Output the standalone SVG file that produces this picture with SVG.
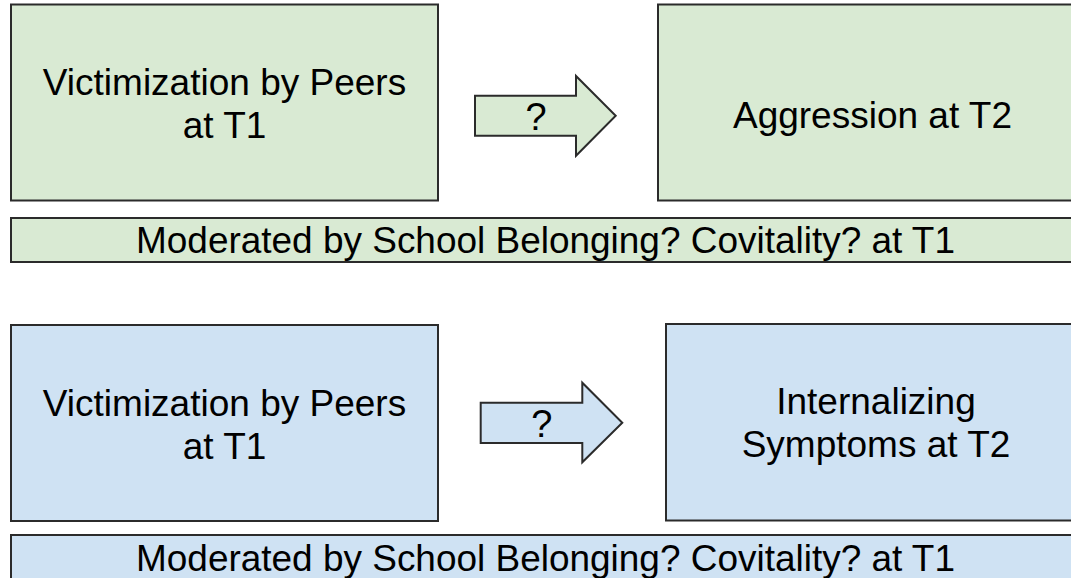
<svg xmlns="http://www.w3.org/2000/svg" width="1071" height="578" viewBox="0 0 1071 578">
<style>
.g{fill:#d9ead3;stroke:#2b2b2b;stroke-width:2}
.b{fill:#cfe2f3;stroke:#2b2b2b;stroke-width:2}
text{font-family:"Liberation Sans",Arial,sans-serif;fill:#000;text-anchor:middle}
.t{font-size:37px}
.q{font-size:38px}
.m{font-size:37px}
</style>
<rect width="1071" height="578" fill="#fff"/>
<g id="victim1">
<rect class="g" x="11" y="4.5" width="427" height="196"/>
<text class="t" x="224.5" y="95">Victimization by Peers</text>
<text class="t" x="224.5" y="138">at T1</text>
</g>
<g id="aggression">
<rect class="g" x="658" y="4.5" width="430" height="196"/>
<text class="t" x="872.5" y="128">Aggression at T2</text>
</g>
<g id="moderator1">
<rect class="g" x="11" y="218" width="1080" height="44"/>
<text class="m" x="545.5" y="253" textLength="819" lengthAdjust="spacingAndGlyphs">Moderated by School Belonging? Covitality? at T1</text>
</g>
<g id="victim2">
<rect class="b" x="11" y="325" width="427" height="196"/>
<text class="t" x="224.5" y="416">Victimization by Peers</text>
<text class="t" x="224.5" y="459">at T1</text>
</g>
<g id="internalizing">
<rect class="b" x="666" y="324" width="430" height="196.5"/>
<text class="t" x="876" y="414">Internalizing</text>
<text class="t" x="876" y="457">Symptoms at T2</text>
</g>
<g id="moderator2">
<rect class="b" x="11" y="535" width="1080" height="60"/>
<text class="m" x="545.5" y="571" textLength="819" lengthAdjust="spacingAndGlyphs">Moderated by School Belonging? Covitality? at T1</text>
</g>
<g id="connectors">
<g id="arrow1">
<polygon class="g" points="475,95.7 576,95.7 576,76 615.7,115.7 576,155.7 576,135.7 475,135.7"/>
<text class="q" x="536" y="130">?</text>
</g>
<g id="arrow2">
<polygon class="b" points="480.7,402.7 582.3,402.7 582.3,382.7 622.3,422.7 582.3,462.3 582.3,443 480.7,443"/>
<text class="q" x="541.7" y="436.7">?</text>
</g>
</g>
</svg>
